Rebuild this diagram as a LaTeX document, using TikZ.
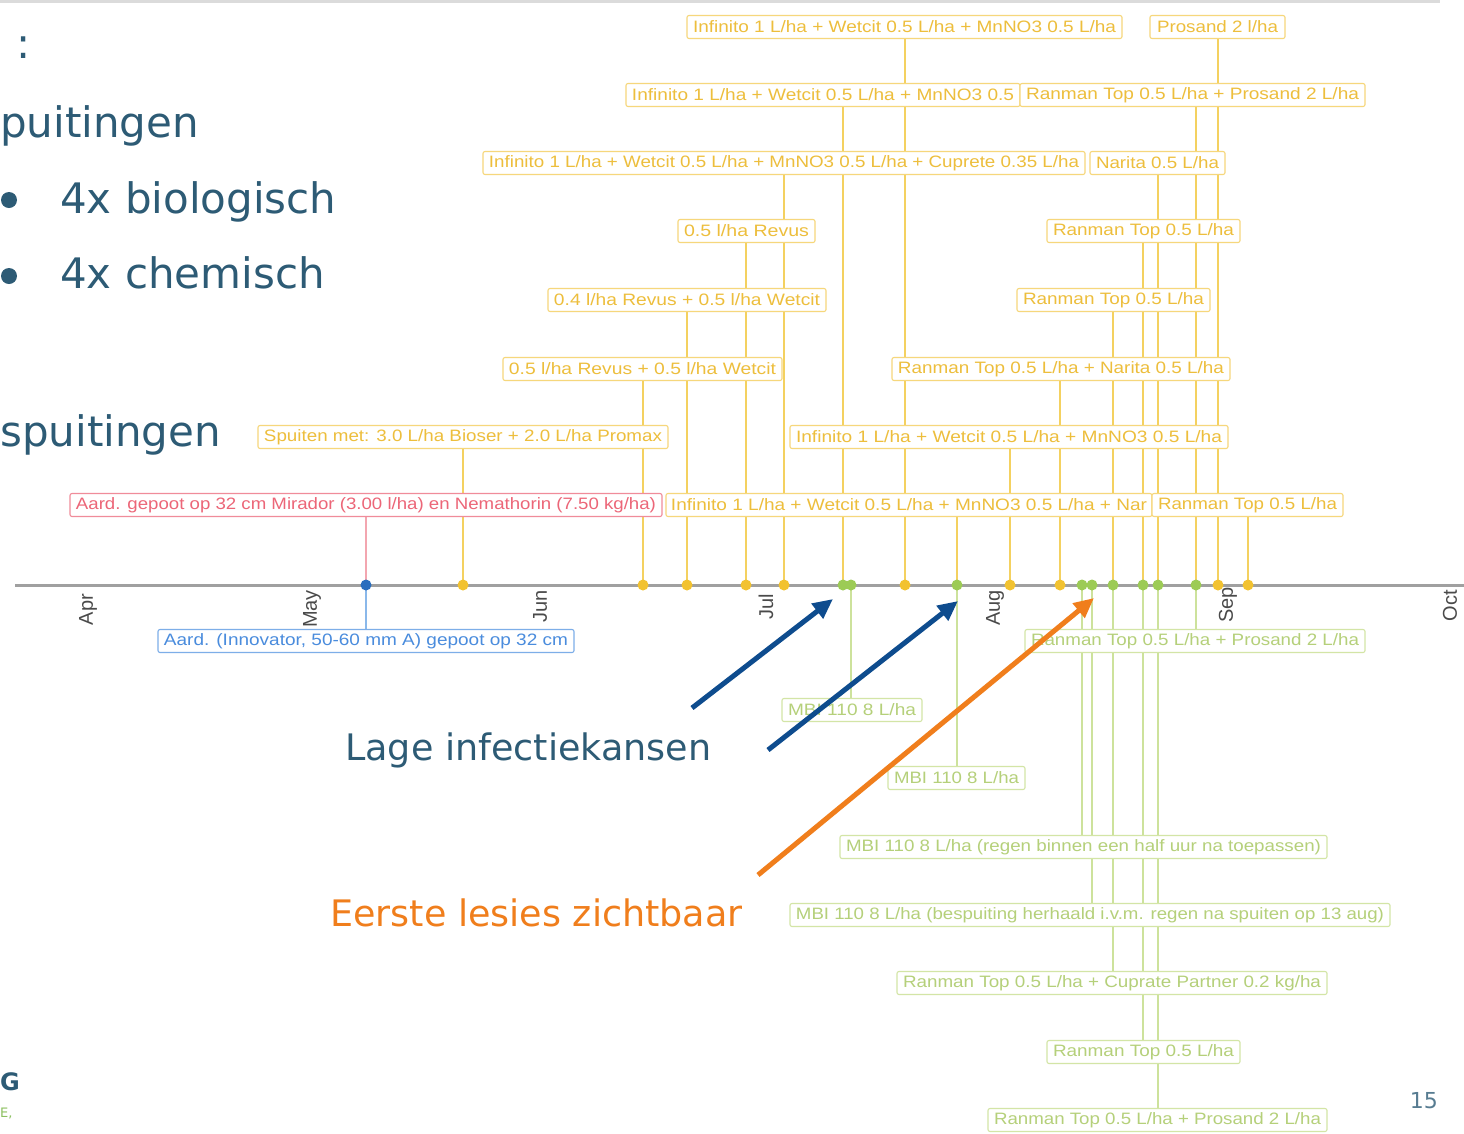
\documentclass[tikz,border=0pt]{standalone}
\usepackage{graphicx}
\usepackage{fontspec}
\setmainfont{Liberation Sans}
\newfontfamily\slidefont{DejaVu Sans}
\usetikzlibrary{arrows.meta}

\definecolor{ybord}{HTML}{F6D77C}
\definecolor{ytext}{HTML}{EDBE3C}
\definecolor{ystem}{HTML}{F4D160}
\definecolor{ydot}{HTML}{F2C230}
\definecolor{gbord}{HTML}{D3E5A6}
\definecolor{gtext}{HTML}{B5D07A}
\definecolor{gstem}{HTML}{CDE29C}
\definecolor{gdot}{HTML}{9CCB55}
\definecolor{rbord}{HTML}{F08C9A}
\definecolor{rtext}{HTML}{EC6678}
\definecolor{rstem}{HTML}{F3A6B0}
\definecolor{bbord}{HTML}{7DAEE8}
\definecolor{btext}{HTML}{4A8CDD}
\definecolor{bstem}{HTML}{8AB8EA}
\definecolor{bdot}{HTML}{2A6EBE}
\definecolor{axisgrey}{HTML}{A0A0A0}
\definecolor{monthgrey}{HTML}{4A4A4A}
\definecolor{slate}{HTML}{2D5B75}
\definecolor{navy}{HTML}{0E4C8E}
\definecolor{amber}{HTML}{F07E1C}
\definecolor{logogreen}{HTML}{8CC060}

\newcommand\boxfont{\fontsize{16.5}{18}\selectfont}
\newcommand\monthfont{\fontsize{20}{22}\selectfont}
\newcommand\lbl[2]{\resizebox{#1pt}{\height}{#2}}

\pgfdeclarelayer{bg}
\pgfsetlayers{bg,main}

\tikzset{
  evbox/.style={draw, line width=1.1pt, rounded corners=2pt, fill=white,
    inner sep=0pt, minimum height=23pt, font=\boxfont},
  ybox/.style={evbox, draw=ybord, text=ytext},
  gbox/.style={evbox, draw=gbord, text=gtext},
  rbox/.style={evbox, draw=rbord, text=rtext},
  blbox/.style={evbox, draw=bbord, text=btext},
  ystemline/.style={draw=ystem, line width=1.5pt},
  gstemline/.style={draw=gstem, line width=1.5pt},
  ydotmark/.style={circle, fill=ydot, inner sep=0pt, minimum size=11pt},
  gdotmark/.style={circle, fill=gdot, inner sep=0pt, minimum size=11pt},
  month/.style={rotate=90, anchor=east, font=\monthfont, text=monthgrey, inner sep=0pt},
  slidetext/.style={anchor=base west, inner sep=0pt, text=slate,
    font=\slidefont\fontsize{42}{48}\selectfont},
  pointer/.style={line width=5pt, -{Triangle[length=20pt,width=18pt]}},
}

\begin{document}
\begin{tikzpicture}[x=1pt,y=-1pt]
\useasboundingbox (0,0) rectangle (1464,1133);
\begin{pgfonlayer}{bg}
  \fill[white] (0,0) rectangle (1464,1133);
\end{pgfonlayer}
\draw[line width=3pt, color=black!14] (0,1) -- (1440,1);

% time axis
\draw[line width=3pt, axisgrey] (15,585) -- (1464,585);

% months
\node[month] (mApr) at (88,594) {Apr};
\node[month] (mMay) at (312,590) {May};
\node[month] (mJun) at (540,590) {Jun};
\node[month] (mJul) at (766,594) {Jul};
\node[month] (mAug) at (995,590) {Aug};
\node[month] (mSep) at (1228,587) {Sep};
\node[month] (mOct) at (1450,590) {Oct};

% treatment dates on the axis
\node[ydotmark] (d463) at (463,585) {};
\node[ydotmark] (d643) at (643,585) {};
\node[ydotmark] (d687) at (687,585) {};
\node[ydotmark] (d746) at (746,585) {};
\node[ydotmark] (d784) at (784,585) {};
\node[gdotmark] (d843) at (843,585) {};
\node[gdotmark] (d851) at (851,585) {};
\node[ydotmark] (d905) at (905,585) {};
\node[gdotmark] (d957) at (957,585) {};
\node[ydotmark] (d1010) at (1010,585) {};
\node[ydotmark] (d1060) at (1060,585) {};
\node[gdotmark] (d1082) at (1082,585) {};
\node[gdotmark] (d1092) at (1092,585) {};
\node[gdotmark] (d1113) at (1113,585) {};
\node[gdotmark] (d1143) at (1143,585) {};
\node[gdotmark] (d1158) at (1158,585) {};
\node[gdotmark] (d1196) at (1196,585) {};
\node[ydotmark] (d1218) at (1218,585) {};
\node[ydotmark] (d1248) at (1248,585) {};
\node[circle, fill=bdot, inner sep=0pt, minimum size=11pt] (d366) at (366,585) {};

% labels above the axis
\node[ybox, minimum width=435pt] (A1) at (904.5,27) {\lbl{423}{Infinito 1 L/ha + Wetcit 0.5 L/ha + MnNO3 0.5 L/ha}};
\node[ybox, minimum width=135pt] (A2) at (1217.5,27) {\lbl{121}{Prosand 2 l/ha}};
\node[ybox, minimum width=394pt] (B1) at (823,95) {\lbl{382}{Infinito 1 L/ha + Wetcit 0.5 L/ha + MnNO3 0.5}};
\node[ybox, minimum width=345pt] (B2) at (1192.5,95) {\lbl{333}{Ranman Top 0.5 L/ha + Prosand 2 L/ha}};
\node[ybox, minimum width=602pt] (C1) at (784,163) {\lbl{590}{Infinito 1 L/ha + Wetcit 0.5 L/ha + MnNO3 0.5 L/ha + Cuprete 0.35 L/ha}};
\node[ybox, minimum width=135pt] (C2) at (1157.5,163) {\lbl{123}{Narita 0.5 L/ha}};
\node[ybox, minimum width=137pt] (D1) at (746.5,231) {\lbl{125}{0.5 l/ha Revus}};
\node[ybox, minimum width=193pt] (D2) at (1143.5,231) {\lbl{181}{Ranman Top 0.5 L/ha}};
\node[ybox, minimum width=278pt] (E1) at (687,300) {\lbl{266}{0.4 l/ha Revus + 0.5 l/ha Wetcit}};
\node[ybox, minimum width=193pt] (E2) at (1113.5,300) {\lbl{181}{Ranman Top 0.5 L/ha}};
\node[ybox, minimum width=279pt] (F1) at (642.5,369) {\lbl{267}{0.5 l/ha Revus + 0.5 l/ha Wetcit}};
\node[ybox, minimum width=338pt] (F2) at (1061,369) {\lbl{326}{Ranman Top 0.5 L/ha + Narita 0.5 L/ha}};
\node[ybox, minimum width=410pt] (G1) at (463,437) {\lbl{398}{Spuiten met: 3.0 L/ha Bioser + 2.0 L/ha Promax}};
\node[ybox, minimum width=438pt] (G2) at (1009,437) {\lbl{426}{Infinito 1 L/ha + Wetcit 0.5 L/ha + MnNO3 0.5 L/ha}};
\node[rbox, minimum width=592pt] (H0) at (366,505) {\lbl{580}{Aard. gepoot op 32 cm Mirador (3.00 l/ha) en Nemathorin (7.50 kg/ha)}};
\node[ybox, minimum width=486pt] (H1) at (909,505) {\lbl{476}{Infinito 1 L/ha + Wetcit 0.5 L/ha + MnNO3 0.5 L/ha + Nar}};
\node[ybox, minimum width=191pt] (H2) at (1247.5,505) {\lbl{179}{Ranman Top 0.5 L/ha}};

% labels below the axis
\node[blbox, minimum width=416pt] (BL) at (366,641) {\lbl{404}{Aard. (Innovator, 50-60 mm A) gepoot op 32 cm}};
\node[gbox, minimum width=340pt] (P1) at (1195,641) {\lbl{328}{Ranman Top 0.5 L/ha + Prosand 2 L/ha}};
\node[gbox, minimum width=140pt] (P2) at (852,710) {\lbl{128}{MBI 110 8 L/ha}};
\node[gbox, minimum width=137pt] (P3) at (956.5,778) {\lbl{125}{MBI 110 8 L/ha}};
\node[gbox, minimum width=487pt] (P4) at (1083.5,847) {\lbl{475}{MBI 110 8 L/ha (regen binnen een half uur na toepassen)}};
\node[gbox, minimum width=600pt] (P5) at (1090,915) {\lbl{588}{MBI 110 8 L/ha (bespuiting herhaald i.v.m. regen na spuiten op 13 aug)}};
\node[gbox, minimum width=430pt] (P6) at (1112,983) {\lbl{418}{Ranman Top 0.5 L/ha + Cuprate Partner 0.2 kg/ha}};
\node[gbox, minimum width=193pt] (P7) at (1143.5,1052) {\lbl{181}{Ranman Top 0.5 L/ha}};
\node[gbox, minimum width=339pt] (P8) at (1157.5,1120) {\lbl{327}{Ranman Top 0.5 L/ha + Prosand 2 L/ha}};

% stems from each date to its label, kept behind the boxes
\begin{pgfonlayer}{bg}
  \draw[ystemline] (d905.center) -- (d905.center |- A1.south);
  \draw[ystemline] (d1218.center) -- (d1218.center |- A2.south);
  \draw[ystemline] (d843.center) -- (d843.center |- B1.south);
  \draw[ystemline] (d1196.center) -- (d1196.center |- B2.south);
  \draw[ystemline] (d784.center) -- (d784.center |- C1.south);
  \draw[ystemline] (d1158.center) -- (d1158.center |- C2.south);
  \draw[ystemline] (d746.center) -- (d746.center |- D1.south);
  \draw[ystemline] (d1143.center) -- (d1143.center |- D2.south);
  \draw[ystemline] (d687.center) -- (d687.center |- E1.south);
  \draw[ystemline] (d1113.center) -- (d1113.center |- E2.south);
  \draw[ystemline] (d643.center) -- (d643.center |- F1.south);
  \draw[ystemline] (d1060.center) -- (d1060.center |- F2.south);
  \draw[ystemline] (d463.center) -- (d463.center |- G1.south);
  \draw[ystemline] (d1010.center) -- (d1010.center |- G2.south);
  \draw[ystemline] (d957.center) -- (d957.center |- H1.south);
  \draw[ystemline] (d1248.center) -- (d1248.center |- H2.south);
  \draw[draw=rstem, line width=1.5pt] (d366.center) -- (H0.south);
  \draw[draw=bstem, line width=1.5pt] (d366.center) -- (BL.north);
  \draw[gstemline] (d1196.center) -- (d1196.center |- P1.north);
  \draw[gstemline] (d851.center) -- (d851.center |- P2.north);
  \draw[gstemline] (d957.center) -- (d957.center |- P3.north);
  \draw[gstemline] (d1082.center) -- (d1082.center |- P4.north);
  \draw[gstemline] (d1092.center) -- (d1092.center |- P5.north);
  \draw[gstemline] (d1113.center) -- (d1113.center |- P6.north);
  \draw[gstemline] (d1143.center) -- (d1143.center |- P7.north);
  \draw[gstemline] (d1158.center) -- (d1158.center |- P8.north);
\end{pgfonlayer}

% slide text on the left
\node[slidetext] (colon) at (16,58) {:};
\node[slidetext] (spuit1) at (0,137) {puitingen};
\fill[slate] (9,200) circle (8);
\fill[slate] (9,276) circle (8);
\node[slidetext] (bio) at (60,213) {4x biologisch};
\node[slidetext] (chem) at (60,288) {4x chemisch};
\node[slidetext] (spuit2) at (0,446) {spuitingen};

% callout arrows
\coordinate (lowA) at (692,708);
\coordinate (lowAtip) at (833,599);
\coordinate (lowB) at (768,750);
\coordinate (lowBtip) at (958,601);
\coordinate (firstL) at (758,875);
\coordinate (firstLtip) at (1094,598);
\draw[pointer, navy] (lowA) -- (lowAtip);
\draw[pointer, navy] (lowB) -- (lowBtip);
\draw[pointer, amber] (firstL) -- (firstLtip);

\node[anchor=base west, inner sep=0pt, text=slate, font=\slidefont\fontsize{36.5}{42}\selectfont] (lage) at (345,760) {Lage infectiekansen};
\node[anchor=base west, inner sep=0pt, text=amber, font=\slidefont\fontsize{36.5}{42}\selectfont] (eerste) at (330,926) {Eerste lesies zichtbaar};

% footer
\node[anchor=base west, inner sep=0pt, text=slate, font=\slidefont\bfseries\fontsize{24}{28}\selectfont] (logo) at (0,1090) {G};
\node[anchor=base west, inner sep=0pt, text=logogreen, font=\slidefont\fontsize{13}{15}\selectfont] (tag) at (0,1117) {E,};
\node[anchor=base east, inner sep=0pt, text=slate!80, font=\slidefont\fontsize{22}{26}\selectfont] (pagenum) at (1438,1108) {15};
\end{tikzpicture}
\end{document}
